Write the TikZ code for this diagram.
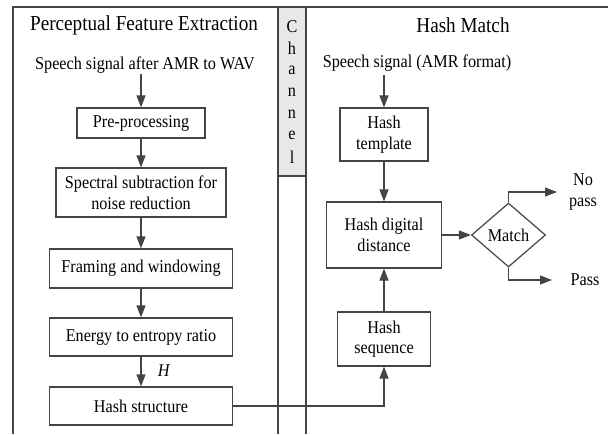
\documentclass[tikz,border=0pt]{standalone}
\usepackage{fontspec}
\setmainfont{Liberation Serif}[FakeStretch=0.9]
\usetikzlibrary{arrows.meta,shapes.geometric}
\definecolor{ln}{RGB}{68,68,68}
\definecolor{chgray}{RGB}{232,232,232}
\begin{document}
\begin{tikzpicture}[x=1pt,y=-1pt,
  every node/.style={font=\fontsize{18}{20.5}\selectfont, text=black, inner sep=0pt},
  box/.style={draw=ln, line width=1.2pt, align=center, rectangle},
  lin/.style={draw=ln, line width=1.2pt},
  arr/.style={lin, -{Triangle[length=12pt,width=9pt]}},
  ttl/.style={font=\fontsize{21.3}{24}\selectfont}
]
\useasboundingbox (0,0) rectangle (608,434);
% frame
\fill[chgray] (278,7) rectangle (306,176);
\draw[lin] (278,176) -- (306,176);
\draw[lin] (13,434) -- (13,7) -- (608,7);
\draw[lin] (278,7) -- (278,434);
\draw[lin] (306,7) -- (306,434);
% channel letters
\foreach \c [count=\i from 0] in {C,h,a,n,n,e,l}
  \node (ch\i) at (292,{27+21.7*\i}) {\c};
% titles
\node[ttl] (t1) at (144,25) {Perceptual Feature Extraction};
\node[ttl] (t2) at (463,25) {Hash Match};
% left column
\node (sig1) at (145,65) {Speech signal after AMR to WAV};
\node[box, minimum width=128pt, minimum height=30pt] (pre) at (141,123) {Pre-processing};
\node[box, minimum width=170pt, minimum height=49pt] (spec) at (141,192.5) {Spectral subtraction for\\noise reduction};
\node[box, minimum width=183pt, minimum height=39pt] (frm) at (141,268.5) {Framing and windowing};
\node[box, minimum width=183pt, minimum height=38pt] (ene) at (141,337) {Energy to entropy ratio};
\node[box, minimum width=183pt, minimum height=38pt] (hs) at (141,406) {Hash structure};
\node (H) at (164,371) {\textit{H}};
\coordinate (s1a) at (141,74);
\draw[arr] (s1a) -- (pre.north);
\draw[arr] (pre.south) -- (spec.north);
\draw[arr] (spec.south) -- (frm.north);
\draw[arr] (frm.south) -- (ene.north);
\draw[arr] (ene.south) -- (hs.north);
% right column
\node (sig2) at (417,63) {Speech signal (AMR format)};
\node[box, minimum width=88pt, minimum height=53pt] (tmpl) at (384,134.5) {Hash\\template};
\node[box, minimum width=115pt, minimum height=66pt] (hdd) at (384,235) {Hash digital\\distance};
\node[box, minimum width=93pt, minimum height=54pt] (seq) at (384,339) {Hash\\sequence};
\node[diamond, draw=ln, line width=1.2pt, minimum width=74pt, minimum height=64pt, inner sep=0pt] (m) at (508.5,235) {Match};
\node[align=center] (np) at (583,192) {No\\pass};
\node (ps) at (585,280) {Pass};
\coordinate (s2a) at (384,75);
\coordinate (npend) at (557,192);
\coordinate (psend) at (552,280);
\draw[arr] (s2a) -- (tmpl.north);
\draw[arr] (tmpl.south) -- (hdd.north);
\draw[arr] (seq.north) -- (hdd.south);
\draw[arr] (hs.east) -| (seq.south);
\draw[arr] (hdd.east) -- (m.west);
\draw[arr] (m.north) |- (npend);
\draw[arr] (m.south) |- (psend);
\end{tikzpicture}
\end{document}
